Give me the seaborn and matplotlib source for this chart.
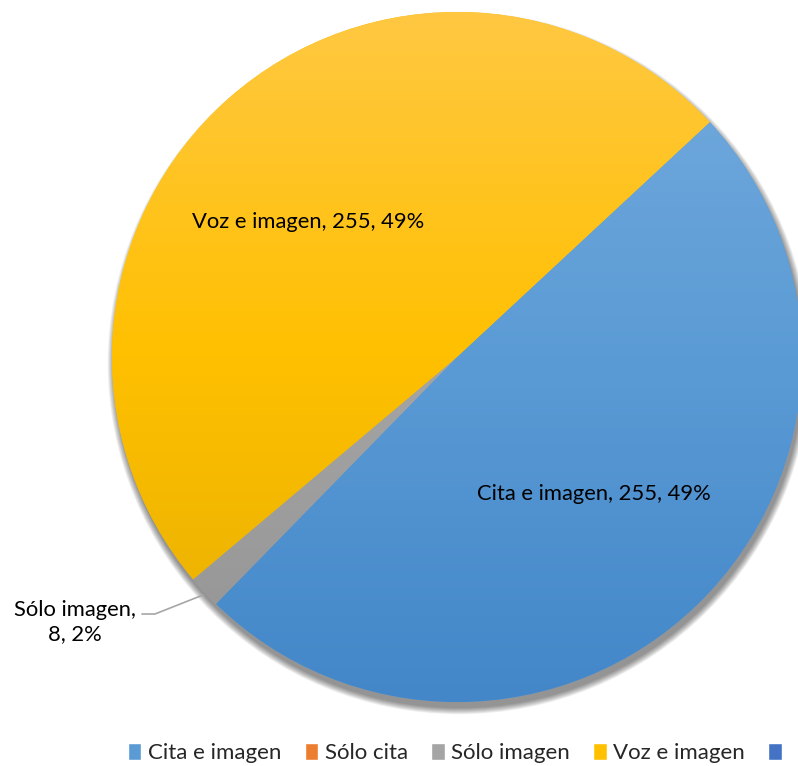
import numpy as np
import matplotlib.pyplot as plt
import seaborn as sns
from matplotlib.patches import Patch, Circle
from matplotlib.colors import LinearSegmentedColormap

# the fifth series' name is cut off in the reference, so only its colour shows
categorias = ["Cita e imagen", "Sólo cita", "Sólo imagen", "Voz e imagen", ""]
valores = [255, 0, 8, 255, 0]
porcentajes = ["49%", "0%", "2%", "49%", "0%"]
colores = ["#5B9BD5", "#ED7D31", "#A5A5A5", "#FFC000", "#4472C4"]
# claro (arriba), base, oscuro (abajo)
degradados = {
    "Cita e imagen": ["#74ABDE", "#5B9BD5", "#4387C9"],
    "Sólo imagen": ["#B5B5B5", "#A5A5A5", "#939393"],
    "Voz e imagen": ["#FFC842", "#FFC000", "#E5AE00"],
}

sns.set_theme(style="white")
plt.rcParams['font.family'] = ['Lato', 'DejaVu Sans']

fig = plt.figure(figsize=(7.98, 7.66), dpi=100)
ax = fig.add_axes([0, 0, 1, 1])
cx, cy, R = 457, 409, 345

# sombra
for i in range(10):
    ax.add_patch(Circle((cx + 2, cy - 6), R + i * 0.7, color="black",
                        alpha=0.05, lw=0, zorder=0))

wedges, _ = ax.pie(valores, colors=colores, startangle=42.9, counterclock=False,
                   center=(cx, cy), radius=R, wedgeprops=dict(linewidth=0))
for w in wedges:
    w.set_zorder(1)

grad = np.linspace(0, 1, 256).reshape(-1, 1)
for w, cat in zip(wedges, categorias):
    if cat not in degradados:
        continue
    cl, cb, cd = degradados[cat]
    cmap = LinearSegmentedColormap.from_list(cat, [cd, cb, cl])
    im = ax.imshow(grad, cmap=cmap, origin="lower", aspect="auto",
                   extent=(cx - R, cx + R, cy - R, cy + R), zorder=2)
    im.set_clip_path(w)

ax.set_xlim(0, 798)
ax.set_ylim(0, 766)
ax.axis("off")

fs = 15.8
ax.text(308, 766 - 222, f"{categorias[3]}, {valores[3]}, {porcentajes[3]}",
        ha="center", va="center", fontsize=fs, color="#000000", zorder=5)
ax.text(594, 766 - 494, f"{categorias[0]}, {valores[0]}, {porcentajes[0]}",
        ha="center", va="center", fontsize=fs, color="#000000", zorder=5)
ax.text(75, 766 - 622, f"{categorias[2]},\n{valores[2]}, {porcentajes[2]}",
        ha="center", va="center", fontsize=fs, color="#000000",
        linespacing=1.25, zorder=5)
ax.plot([142, 155, 203], [766 - 614, 766 - 614, 766 - 595], color="#A6A6A6",
        lw=1.2, zorder=5)

handles = [Patch(facecolor=c, label=l) for c, l in zip(colores, categorias)]
fig.legend(handles=handles, loc="center left", ncol=5, frameon=False,
           bbox_to_anchor=(128 / 798, 1 - 753 / 766), fontsize=16,
           handlelength=0.6, handleheight=0.85, handletextpad=0.3,
           columnspacing=1.05, borderaxespad=0, borderpad=0)

fig.savefig("out.png", dpi=100)
